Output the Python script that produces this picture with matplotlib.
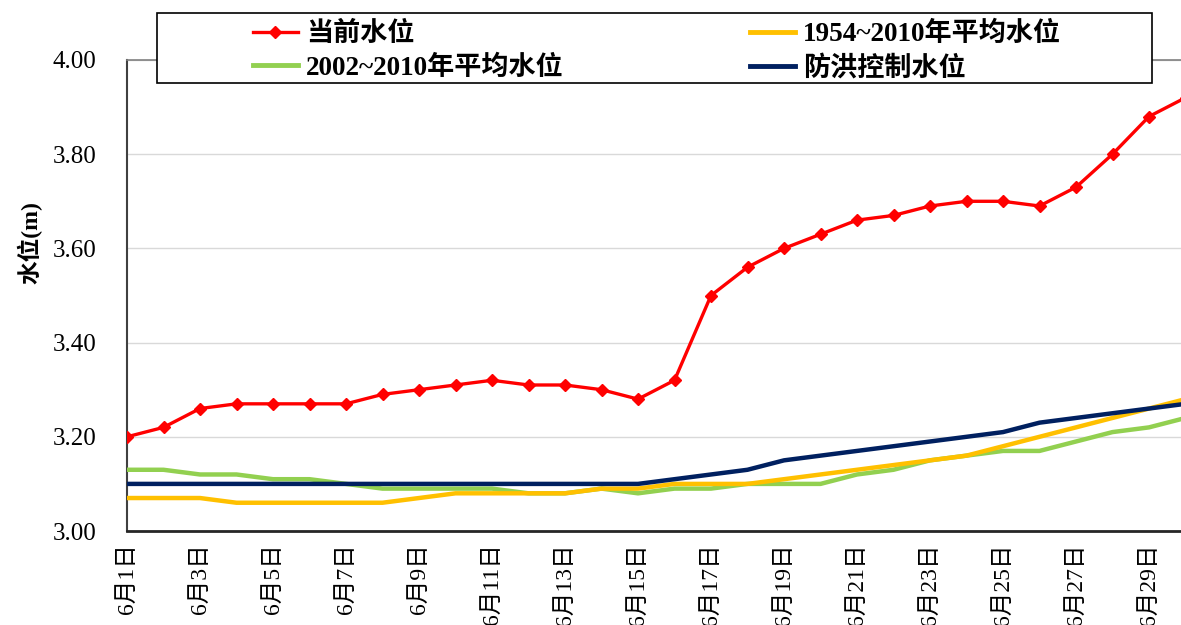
import matplotlib
matplotlib.use("Agg")
import matplotlib.pyplot as plt
from matplotlib.patches import Rectangle
from matplotlib.lines import Line2D

plt.rcParams['font.family'] = ['Liberation Serif', 'Noto Sans CJK SC']

days = list(range(1, 31))
tick_days = [1, 3, 5, 7, 9, 11, 13, 15, 17, 19, 21, 23, 25, 27, 29]
tick_labels = [f"6月{d}日" for d in tick_days]

current = [3.20, 3.22, 3.26, 3.27, 3.27, 3.27, 3.27, 3.29, 3.30, 3.31,
           3.32, 3.31, 3.31, 3.30, 3.28, 3.32, 3.50, 3.56, 3.60, 3.63,
           3.66, 3.67, 3.69, 3.70, 3.70, 3.69, 3.73, 3.80, 3.88, 3.92]
avg_1954 = [3.07, 3.07, 3.07, 3.06, 3.06, 3.06, 3.06, 3.06, 3.07, 3.08,
            3.08, 3.08, 3.08, 3.09, 3.09, 3.10, 3.10, 3.10, 3.11, 3.12,
            3.13, 3.14, 3.15, 3.16, 3.18, 3.20, 3.22, 3.24, 3.26, 3.28]
avg_2002 = [3.13, 3.13, 3.12, 3.12, 3.11, 3.11, 3.10, 3.09, 3.09, 3.09,
            3.09, 3.08, 3.08, 3.09, 3.08, 3.09, 3.09, 3.10, 3.10, 3.10,
            3.12, 3.13, 3.15, 3.16, 3.17, 3.17, 3.19, 3.21, 3.22, 3.24]
flood_ctrl = [3.10, 3.10, 3.10, 3.10, 3.10, 3.10, 3.10, 3.10, 3.10, 3.10,
              3.10, 3.10, 3.10, 3.10, 3.10, 3.11, 3.12, 3.13, 3.15, 3.16,
              3.17, 3.18, 3.19, 3.20, 3.21, 3.23, 3.24, 3.25, 3.26, 3.27]

names = ["当前水位", "1954~2010年平均水位", "2002~2010年平均水位", "防洪控制水位"]
colors = ["#FF0000", "#FFC000", "#92D050", "#002060"]

W, H = 1181, 625
fig = plt.figure(figsize=(W / 100, H / 100), dpi=100)
left = 127 / W
bottom = 1 - 531 / H
height = (531 - 60) / H
width = (29 * 36.5) / W
ax = fig.add_axes([left, bottom, width, height])

ax.plot(days, avg_2002, color=colors[2], lw=3.2, zorder=3, solid_capstyle='butt')
ax.plot(days, avg_1954, color=colors[1], lw=3.2, zorder=4, solid_capstyle='butt')
ax.plot(days, flood_ctrl, color=colors[3], lw=3.2, zorder=5, solid_capstyle='butt')
ax.plot(days, current, color=colors[0], lw=2.4, marker='D', ms=6, zorder=6)

ax.set_xlim(1, 30)
ax.set_ylim(3.0, 4.0)
yt = [3.0, 3.2, 3.4, 3.6, 3.8, 4.0]
ax.set_yticks(yt)
ax.set_yticklabels([f"{v:.2f}" for v in yt], fontsize=18)
ax.set_xticks(tick_days)
ax.set_xticklabels(tick_labels, rotation=90, fontsize=17, va='top', ha='center')
ax.tick_params(axis='both', length=0)
ax.tick_params(axis='y', pad=22)
ax.tick_params(axis='x', pad=9)
ax.grid(axis='y', color='#d9d9d9', lw=1)
ax.set_axisbelow(True)
ax.spines['left'].set_color('#404040')
ax.spines['left'].set_linewidth(1.5)
ax.spines['bottom'].set_color('#262626')
ax.spines['bottom'].set_linewidth(2)
ax.spines['top'].set_color('#808080')
ax.spines['top'].set_linewidth(1.2)
ax.spines['right'].set_visible(False)

fig.text(30 / W, 1 - 243 / H, "水位(m)", rotation=90, fontsize=17, fontweight='bold',
         ha='center', va='center')

# legend box
box = Rectangle((157 / W, 1 - 83 / H), (1152 - 157) / W, 70 / H, transform=fig.transFigure,
                facecolor='white', edgecolor='black', lw=1.2, zorder=10)
fig.patches.append(box)

h = [Line2D([], [], color=colors[0], lw=2.4, marker='D', ms=6),
     Line2D([], [], color=colors[1], lw=3.5),
     Line2D([], [], color=colors[2], lw=3.5),
     Line2D([], [], color=colors[3], lw=3.5)]
lp = dict(frameon=False, handlelength=1.65, handletextpad=0.3,
          labelspacing=0.3, borderpad=0, borderaxespad=0,
          prop={'weight': 'bold', 'size': 19.5})
leg1 = fig.legend([h[0], h[2]], [names[0], names[2]], loc='upper left',
                  bbox_to_anchor=(253 / W, 1 - 22 / H), **lp)
leg2 = fig.legend([h[1], h[3]], [names[1], names[3]], loc='upper left',
                  bbox_to_anchor=(750 / W, 1 - 22 / H), **lp)
leg1.set_zorder(11)
leg2.set_zorder(11)

fig.savefig("out.png", dpi=100)
